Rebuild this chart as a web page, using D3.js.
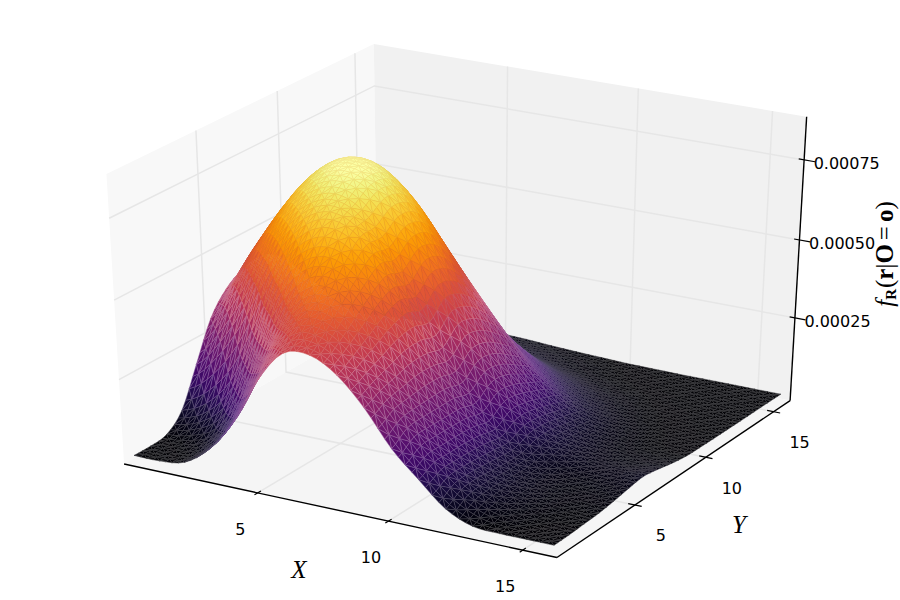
<!DOCTYPE html>
<html>
<head>
<meta charset="utf-8">
<script src="https://cdn.jsdelivr.net/npm/d3@7/dist/d3.min.js"></script>
<style>
  html, body { margin: 0; padding: 0; background: #fff; }
  svg { display: block; }
</style>
</head>
<body>
<svg id="chart" width="900" height="600"></svg>
<script>
// Tick values on the three axes
const xTicks = [5, 10, 15];
const yTicks = [5, 10, 15];
const zTicks = [25, 50, 75];               // density in units of 1e-5
const zTickLabels = ["0.00025", "0.00050", "0.00075"];

// Grid positions of the density table
const xGrid = d3.range(0, 17);
const yGrid = d3.range(0, 17);

// Density (units of 1e-5), one row per Y value, columns X = 0..16
const y00 = [.2,.2,1.5,7.5,18,33,43,44,39.5,31,20,12,4.5,.8,.3,.3,.3];
const y01 = [.2,.6,2.5,10,24,40,48.5,48.5,42.5,33.5,23.5,14.5,7.5,3,1.2,.5,.4];
const y02 = [1,2.4,6.5,18,35.5,49,55.5,54,46,35,24,14.5,8,3.8,1.8,.8,.7];
const y03 = [6,10,19,35,52,61.5,64,59.5,49.5,36.5,24,14.5,7.5,3.8,2,1.1,1];
const y04 = [18,27,39.5,54.5,65.5,71.5,71,64,51.5,36.5,24,14,7,3.4,1.9,1.5,1.7];
const y05 = [30,42,54.5,66,73.8,76.7,73.3,63.3,49.8,35.5,22.8,13,7,3.6,2.2,2.1,2.6];
const y06 = [36.6,49.2,61.6,72.3,79,80.6,76.5,67,54.5,40,26.5,16,8.6,4.8,3,2.8,3.3];
const y07 = [40,52.9,65.3,75.1,80.7,81,75.5,66,53,39,26,15.5,8.6,4.6,2.6,2,2.5];
const y08 = [41.5,53.9,65.3,73.9,78.1,77,70.5,60,47.5,35,23,13.8,7.5,3.8,1.9,1.3,1.4];
const y09 = [39.8,51,60.7,67.6,70.2,68,61,50.5,40,29.5,19.5,11.8,6.3,3,1.3,.7,.6];
const y10 = [34.8,43.6,51.1,55.9,57,53.9,46.8,38,29.5,21,14,8.5,4.6,2.2,.9,.5,.4];
const y11 = [28,34.5,39.5,42.5,42.5,39.5,34,27.5,21,15,9.5,5.5,2.9,1.3,.6,.35,.3];
const y12 = [21,25.5,28.9,30.5,30,27.2,23,18.5,13.8,9.4,5.8,3.3,1.7,.8,.4,.3,.25];
const y13 = [13.6,16.2,18,18.7,18,16,13.3,10.3,7.4,4.8,2.9,1.6,.9,.4,.3,.25,.2];
const y14 = [7.8,9.1,10,10.2,9.6,8.4,6.7,5,3.4,2.1,1.2,.7,.4,.3,.25,.2,.2];
const y15 = [3.9,4.5,5,5.1,4.9,4.3,3.5,2.7,1.9,1.2,.7,.4,.3,.2,.2,.2,.2];
const y16 = [2,2.3,2.6,2.6,2.5,2.2,1.9,1.4,1,.7,.4,.3,.2,.2,.2,.15,.15];
const density = [y00,y01,y02,y03,y04,y05,y06,y07,y08,y09,y10,y11,y12,y13,y14,y15,y16];

const svg = d3.select("#chart");

// Data limits of the plot box
const xLim = [-0.25, 16.25], yLim = [-0.25, 16.25], zLim = [-2.3, 88.2];

// Data to unit-box scales
const sx = d3.scaleLinear().domain(xLim).range([-.5, .5]);
const sy = d3.scaleLinear().domain(yLim).range([-.5, .5]);
const sz = d3.scaleLinear().domain(zLim).range([-.5, .5]);

// Image-plane to pixel scales
const px = d3.scaleLinear().domain([-0.0677, 0.0656]).range([124, 790]);
const py = d3.scaleLinear().domain([0.0749, -0.0802]).range([44, 557.5]);

// Camera: elevation 30, azimuth -60, distance 10, with perspective
const elev = 30 * Math.PI / 180, azim = -60 * Math.PI / 180, dist = 10;
const w = [Math.cos(azim) * Math.cos(elev), Math.sin(azim) * Math.cos(elev), Math.sin(elev)];
const u = [-Math.sin(azim), Math.cos(azim), 0];
const v = [w[1] * u[2] - w[2] * u[1], w[2] * u[0] - w[0] * u[2], w[0] * u[1] - w[1] * u[0]];
const dot = (a, b) => a[0] * b[0] + a[1] * b[1] + a[2] * b[2];

function project(x, y, z) {
  const c = [sx(x), sy(y), sz(z)];
  const d = dist - dot(w, c);
  return [px(dot(u, c) / d), py(dot(v, c) / d), d];
}

const [x0, x1] = xLim, [y0, y1] = yLim, [z0, z1] = zLim;
const pts = a => a.map(p => { const q = project(...p); return q[0].toFixed(2) + "," + q[1].toFixed(2); }).join(" ");

// Back panes and floor
const panes = svg.append("g");
panes.append("polygon").attr("points", pts([[x0,y0,z0],[x0,y1,z0],[x0,y1,z1],[x0,y0,z1]])).attr("fill", "#f8f8f8");
panes.append("polygon").attr("points", pts([[x0,y1,z0],[x1,y1,z0],[x1,y1,z1],[x0,y1,z1]])).attr("fill", "#f1f1f1");
panes.append("polygon").attr("points", pts([[x0,y0,z0],[x1,y0,z0],[x1,y1,z0],[x0,y1,z0]])).attr("fill", "#f5f5f5");

// Grid lines running across the panes
const gridG = svg.append("g").attr("fill", "none").attr("stroke", "#e6e6e6").attr("stroke-width", 1.5);
const polyline = a => gridG.append("polyline").attr("points", pts(a));
xTicks.forEach(t => polyline([[t,y0,z0],[t,y1,z0],[t,y1,z1]]));
yTicks.forEach(t => polyline([[x1,t,z0],[x0,t,z0],[x0,t,z1]]));
zTicks.forEach(t => polyline([[x0,y0,t],[x0,y1,t],[x1,y1,t]]));

// Axis lines and tick marks
const axisG = svg.append("g").attr("stroke", "#000").attr("fill", "none");
const seg = (a, b, width) => {
  const p = project(...a), q = project(...b);
  axisG.append("line").attr("x1", p[0]).attr("y1", p[1]).attr("x2", q[0]).attr("y2", q[1]).attr("stroke-width", width);
};
seg([x0,y0,z0],[x1,y0,z0],1.4);
seg([x1,y0,z0],[x1,y1,z0],1.4);
seg([x1,y1,z0],[x1,y1,z1],1.4);
xTicks.forEach(t => seg([t,y0-.2,z0],[t,y0+.2,z0],1.2));
yTicks.forEach(t => seg([x1-.25,t,z0],[x1+.25,t,z0],1.2));
zTicks.forEach(t => seg([x1-.2,y1,t],[x1+.4,y1,t],1.2));

// Tick labels sit at a fixed pixel offset from their tick
const labelG = svg.append("g").attr("font-family", "'DejaVu Sans'").attr("font-size", 16).attr("fill", "#000");
xTicks.forEach(t => {
  const p = project(t, y0, z0);
  labelG.append("text").attr("x", p[0] - 17.5).attr("y", p[1] + 36).attr("dy", "0.36em").attr("text-anchor", "middle").text(t);
});
yTicks.forEach(t => {
  const p = project(x1, t, z0);
  labelG.append("text").attr("x", p[0] + 26).attr("y", p[1] + 30.5).attr("dy", "0.36em").attr("text-anchor", "middle").text(t);
});
zTicks.forEach((t, i) => {
  const p = project(x1, y1, t);
  labelG.append("text").attr("x", p[0] + 9.5).attr("y", p[1] + 3).attr("dy", "0.36em").text(zTickLabels[i]);
});

// Axis titles
const serif = "'Liberation Serif'";
svg.append("text").attr("x", 299).attr("y", 578).attr("text-anchor", "middle").attr("font-family", serif)
  .attr("font-style", "italic").attr("font-size", 25).text("X");
svg.append("text").attr("x", 739).attr("y", 533).attr("text-anchor", "middle").attr("font-family", serif)
  .attr("font-style", "italic").attr("font-size", 25).text("Y");
const zTitle = svg.append("text").attr("transform", "translate(893,254) rotate(-90)").attr("text-anchor", "middle")
  .attr("font-family", serif).attr("font-size", 25);
zTitle.append("tspan").attr("font-style", "italic").text("f");
zTitle.append("tspan").attr("font-weight", "bold").attr("font-size", 15).attr("dy", 3).text("R");
zTitle.append("tspan").attr("dy", -3).attr("dx", 1).text("(");
zTitle.append("tspan").attr("font-weight", "bold").text("r");
zTitle.append("tspan").text("|");
zTitle.append("tspan").attr("font-weight", "bold").text("O");
zTitle.append("tspan").attr("dx", 4).text("=");
zTitle.append("tspan").attr("dx", 4).attr("font-weight", "bold").text("o");
zTitle.append("tspan").text(")");

// Cubic blending so the table renders as a smooth sheet
const cubic = (a, b, c, d, t) =>
  b + 0.5 * t * (c - a + t * (2 * a - 5 * b + 4 * c - d + t * (3 * (b - c) + d - a)));
const at = (i, j) => density[Math.max(0, Math.min(16, j))][Math.max(0, Math.min(16, i))];
function surfaceZ(x, y) {
  const i = Math.min(15, Math.floor(x)), j = Math.min(15, Math.floor(y));
  const tx = x - i, ty = y - j;
  const row = k => cubic(at(i - 1, k), at(i, k), at(i + 1, k), at(i + 2, k), tx);
  return Math.max(0, cubic(row(j - 1), row(j), row(j + 1), row(j + 2), ty));
}

// Triangulated mesh over the table's extent
const cellsPerUnit = 4;
const n = (xGrid.length - 1) * cellsPerUnit;
const coordX = d3.scaleLinear().domain([0, n]).range(d3.extent(xGrid));
const coordY = d3.scaleLinear().domain([0, n]).range(d3.extent(yGrid));
const node = (i, j) => { const x = coordX(i), y = coordY(j); return [x, y, surfaceZ(x, y)]; };

const maxZ = d3.max(density, r => d3.max(r));
const colour = d3.scaleSequential(d3.interpolateInferno).domain([0, maxZ]);

// Mesh edges: pale on the low ground and the slopes, a faint darker tone on the bright crown
const edgeTone = d3.scaleLinear().domain([0, .2, .5, .62, 1]).range(["#9a9a9a", "#c0a8d0", "#ecc0c8", "#b04a2a", "#d07a20"]);
const edgeWeight = d3.scaleLinear().domain([0, .2, .5, .62, 1]).range([.42, .5, .5, .26, .2]);

const triangles = [];
for (let j = 0; j < n; j++) {
  for (let i = 0; i < n; i++) {
    const a = node(i, j), b = node(i + 1, j), c = node(i + 1, j + 1), d = node(i, j + 1);
    const pair = (i + j) % 2 === 0 ? [[a, b, c], [a, c, d]] : [[a, b, d], [b, c, d]];
    pair.forEach(t => triangles.push(t));
  }
}

// Far triangles first, so nearer ones paint over them
const drawn = triangles.map(t => {
  const p = t.map(q => project(...q));
  return { points: p.map(q => q[0].toFixed(2) + "," + q[1].toFixed(2)).join(" "),
           depth: d3.mean(p, q => q[2]), z: d3.mean(t, q => q[2]) };
}).sort((a, b) => d3.descending(a.depth, b.depth));

svg.append("g").selectAll("polygon").data(drawn).join("polygon")
  .attr("points", d => d.points)
  .attr("fill", d => colour(d.z))
  .attr("stroke", d => d3.interpolateRgb(colour(d.z), edgeTone(d.z / maxZ))(edgeWeight(d.z / maxZ)))
  .attr("stroke-width", 0.5)
  .attr("stroke-linejoin", "round");
</script>
</body>
</html>
